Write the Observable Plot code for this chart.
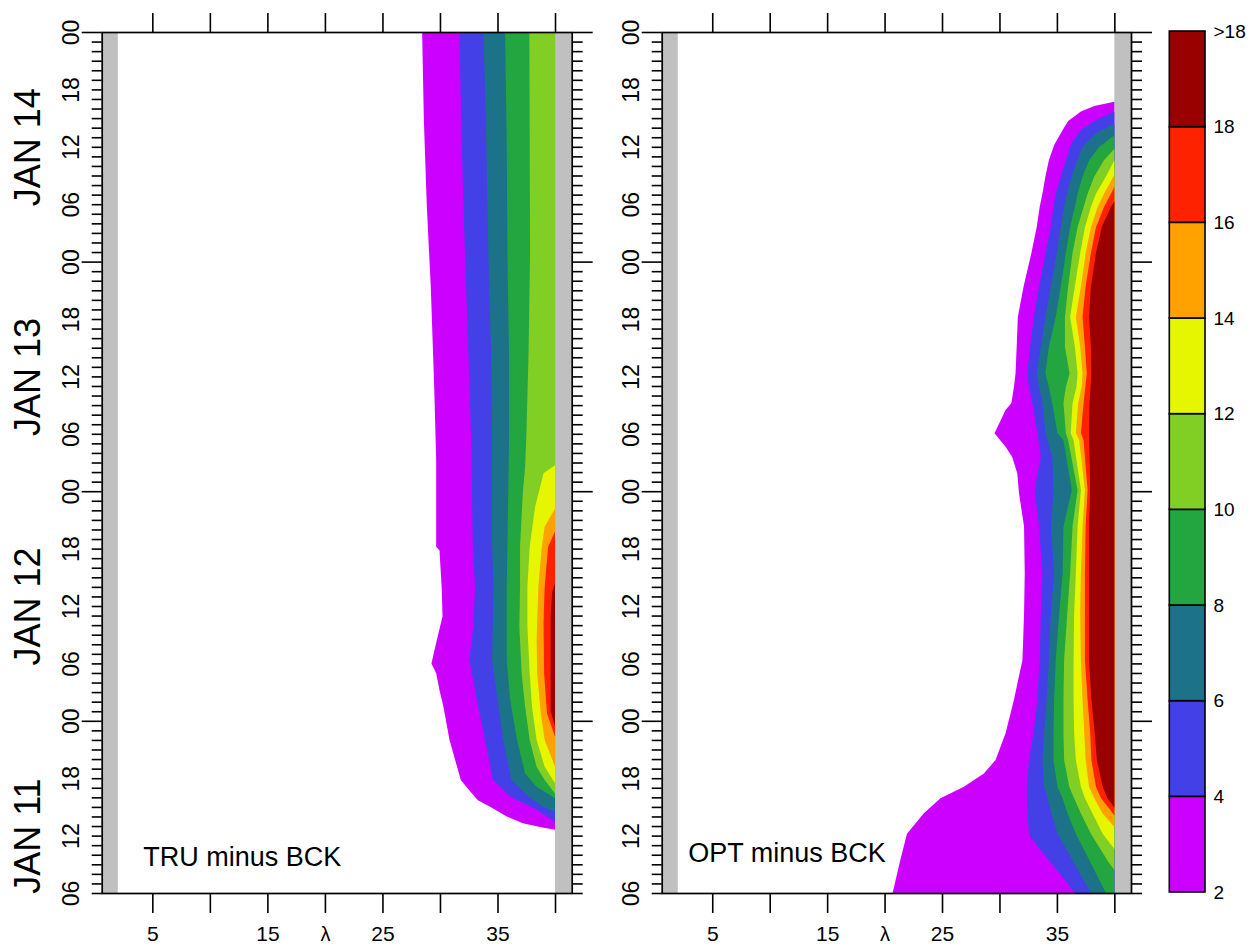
<!DOCTYPE html>
<html><head><meta charset="utf-8">
<script src="https://cdn.jsdelivr.net/npm/d3@7"></script>
<script src="https://cdn.jsdelivr.net/npm/@observablehq/plot@0.6"></script>
<style>
html,body{margin:0;padding:0;background:#fff;}
#wrap{position:relative;width:1260px;height:947px;overflow:hidden;background:#fff;}
#wrap > svg{position:absolute;top:0;}
</style></head>
<body><div id="wrap"></div>
<script>
// ---- contour levels & colours ----
const levels = [2, 4, 6, 8, 10, 12, 14, 16, 18];
const levelColors = ["#cc00ff", "#4440e8", "#1c7289", "#23a640", "#81cf24", "#e6f500", "#ffa200", "#ff2200", "#990000"];
const cbLabels = ["2", "4", "6", "8", "10", "12", "14", "16", "18", ">18"];

// ---- axis ticks / labels ----
const lamDomain = [0.6, 41.45];
const lamData = [2, 40];
const xTicks = [5, 10, 15, 20, 25, 30, 35, 40];
const xLabels = [5, 15, 25, 35];
const hourLabelPos = [6, 12, 18, 24, 30, 36, 42, 48, 54, 60, 66, 72, 78, 84, 90, 96];
const hourLabels = ["06", "12", "18", "00", "06", "12", "18", "00", "06", "12", "18", "00", "06", "12", "18", "00"];
const dayTicks = [24, 48, 72, 96];
const dayLabels = ["JAN 11", "JAN 12", "JAN 13", "JAN 14"];
const dayLabelPos = [12, 36, 60, 84];

// ---- TRU minus BCK: [hour since Jan 11 00, λ of contour] per level ----
const tru2 = [[96,28.45],[86.8,28.6],[77.7,28.86],[69.4,29.2],[58.9,29.5],[51.3,29.67],[42.2,29.67],[41.8,29.96],[37.7,30.16],[34.9,30.22],[33.15,29.87],[31.7,29.58],[30.0,29.26],[28.96,29.67],[27.2,29.96],[25.47,30.3],[22.0,30.83],[17.8,31.81],[16.8,32.5],[15.7,33.3],[15.0,34.4],[14.0,35.8],[13.3,37.2],[12.9,38.7],[12.6,40]];
const tru4 = [[96,31.7],[86.8,31.84],[77.7,32.04],[69.4,32.27],[62.4,32.47],[53.4,32.71],[42.2,32.85],[38.0,33.05],[33.8,32.9],[30.35,32.56],[26.2,33.2],[22.0,33.92],[17.8,34.59],[16.1,36.1],[14.7,38.41],[13.45,40]];
const tru6 = [[96,33.78],[86.8,33.98],[77.7,34.13],[69.4,34.27],[62.4,34.45],[53.4,34.53],[42.2,34.53],[38.0,34.65],[30.35,34.53],[26.2,35.0],[22.0,35.5],[17.8,36.2],[16.1,37.7],[15.0,39.0],[14.5,40]];
const tru8 = [[96,35.66],[84.8,35.8],[72.9,35.86],[62.4,36.0],[53.4,36.0],[42.2,35.86],[38.0,35.8],[30.35,35.8],[26.2,36.1],[22.0,36.7],[18.5,37.4],[17.1,38.4],[15.9,40]];
const tru10 = [[96,37.77],[72.9,37.83],[62.4,37.7],[53.4,37.5],[50.56,37.4],[47.78,37.2],[42.2,36.96],[38.0,36.96],[33.8,36.9],[28.96,37.1],[25.47,37.4],[22.0,37.8],[19.2,38.4],[17.8,39.1],[16.4,40]];
const tru12 = [[50.7,40],[49.87,39.0],[46.38,38.27],[42.2,37.8],[38.0,37.6],[33.8,37.6],[28.96,37.8],[25.47,38.0],[22.0,38.4],[19.2,39.1],[17.47,40]];
const tru14 = [[46.2,40],[44.29,39.1],[42.2,38.85],[38.0,38.55],[32.4,38.4],[28.96,38.45],[24.78,38.76],[22.0,39.1],[19.2,40]];
const tru16 = [[43.8,40],[42.2,39.4],[38.0,39.1],[34.2,39.0],[28.96,39.05],[24.78,39.3],[22.34,40]];
const tru18 = [[38.4,40],[37.5,39.75],[35.0,39.62],[25.0,39.62],[23.4,40]];

// ---- OPT minus BCK ----
const opt2 = [[88.7,40],[88.26,38.25],[87.7,37.09],[86.7,35.98],[85.75,35.5],[84.2,34.76],[82.6,34.3],[80.9,34.0],[79.1,33.74],[77.7,33.5],[75.6,33.24],[72.9,32.78],[69.4,32.1],[66.2,31.6],[63.1,31.5],[60.3,31.4],[58.9,31.26],[57.2,31.03],[56.5,30.53],[54.05,29.57],[52.65,30.53],[51.6,31.1],[49.87,31.55],[47.8,31.7],[44.3,32.14],[39.4,32.2],[35.2,32.14],[30.35,32.0],[26.2,31.26],[22.7,30.53],[19.9,29.66],[18.5,28.64],[17.1,26.9],[15.9,24.86],[14.3,23.4],[12.2,21.95],[9.4,21.36],[6,20.7]];
const opt4 = [[87.7,40],[86.8,38.4],[85.75,37.09],[84.4,36.27],[82.6,35.78],[80.9,35.34],[79.1,34.9],[77.7,34.7],[75.6,34.47],[72.9,34.0],[69.4,33.45],[66.2,33.0],[63.1,32.66],[60.3,32.43],[58.9,32.57],[57.2,32.87],[54.05,33.3],[51.6,33.6],[49.87,33.3],[47.8,33.07],[44.3,33.45],[39.4,33.74],[35.2,33.6],[30.35,33.5],[26.2,33.3],[22.7,32.95],[19.9,32.57],[17.1,32.37],[14.3,32.43],[12.0,32.57],[6,36.6]];
const opt6 = [[86.4,40],[85.4,38.4],[84.0,37.23],[82.6,36.8],[80.9,36.27],[79.1,35.86],[77.7,35.63],[75.6,35.34],[72.9,34.99],[69.4,34.47],[66.2,34.0],[63.1,33.6],[60.3,33.24],[58.9,33.45],[57.2,33.74],[54.05,34.0],[51.6,34.6],[47.8,34.7],[44.3,34.47],[39.4,34.76],[35.2,34.47],[30.35,34.3],[26.2,34.1],[22.7,33.88],[19.9,33.74],[17.1,33.88],[15.9,34.18],[14.3,34.53],[12.2,35.05],[6,37.96]];
const opt8 = [[85.2,40],[84.0,38.7],[82.6,37.8],[80.9,37.23],[79.1,36.8],[77.7,36.56],[75.6,36.15],[72.9,35.78],[69.4,35.34],[66.2,34.9],[63.1,34.3],[60.3,34.0],[58.9,34.3],[57.2,34.6],[54.05,35.05],[53.35,35.57],[48.1,36.3],[44.3,35.57],[39.4,35.5],[35.2,35.2],[30.35,34.9],[26.2,34.76],[22.7,34.7],[19.9,34.7],[17.1,35.05],[15.9,35.5],[14.3,35.93],[12.2,36.65],[6,39.27]];
const opt10 = [[83.8,40],[82.6,39.1],[80.9,38.25],[79.1,37.67],[77.7,37.32],[75.6,36.8],[72.9,36.36],[69.4,35.98],[66.2,35.7],[63.1,35.7],[60.3,36.1],[58.9,35.78],[57.2,35.57],[54.05,35.78],[53.35,35.98],[48.1,36.8],[44.3,36.36],[39.4,36.15],[35.2,35.9],[30.35,35.63],[26.2,35.57],[22.7,35.57],[19.9,35.63],[17.1,36.07],[15.9,36.5],[14.3,37.09],[12.2,37.96],[9.4,39.4],[8.4,40]];
const opt12 = [[82.6,40],[80.9,39.27],[79.1,38.4],[77.7,37.96],[75.6,37.44],[72.9,37.03],[69.4,36.56],[66.2,36.15],[63.1,36.56],[60.3,36.8],[58.9,36.7],[57.2,36.36],[54.05,36.2],[53.35,36.45],[48.1,37.09],[44.3,36.8],[39.4,36.65],[35.2,36.5],[30.35,36.45],[26.2,36.45],[22.7,36.5],[19.9,36.65],[17.1,37.09],[15.9,37.44],[14.3,38.1],[12.2,38.98],[10.6,40]];
const opt14 = [[81.05,40],[79.1,39.1],[77.7,38.55],[75.6,37.96],[72.9,37.5],[69.4,37.09],[66.2,36.65],[63.1,37.03],[60.3,37.23],[58.9,37.15],[57.2,36.85],[54.05,36.65],[53.35,36.94],[48.1,37.44],[44.3,37.23],[39.4,37.09],[35.2,37.03],[30.35,37.09],[26.2,37.23],[22.7,37.38],[19.9,37.5],[17.1,37.8],[15.9,38.25],[14.3,38.98],[12.9,40]];
const opt16 = [[79.8,40],[79.1,39.7],[77.7,39.1],[75.6,38.4],[72.9,37.96],[69.4,37.5],[66.2,37.23],[63.1,37.44],[60.3,37.6],[57.2,37.32],[54.05,37.09],[53.35,37.32],[48.1,37.67],[44.3,37.5],[39.4,37.44],[30.35,37.44],[26.2,37.67],[22.7,37.9],[19.9,38.0],[17.1,38.4],[15.9,38.84],[14.6,39.7],[14.1,40]];
const opt18 = [[78.3,40],[77.7,39.7],[75.6,38.9],[72.9,38.4],[69.4,37.96],[66.2,37.8],[63.1,37.96],[60.3,38.0],[57.2,37.84],[54.05,37.8],[48.1,37.9],[44.3,37.8],[30.35,37.8],[26.2,38.0],[22.7,38.3],[19.9,38.48],[17.1,38.98],[15.9,39.4],[14.9,40]];

const truLevels = [tru2, tru4, tru6, tru8, tru10, tru12, tru14, tru16, tru18];
const optLevels = [opt2, opt4, opt6, opt8, opt10, opt12, opt14, opt16, opt18];

const FONT = "'Liberation Sans', Arial, sans-serif";
const allHours = d3.range(6, 97);
const minorHours = allHours.filter(h => h % 24 !== 0);
const greyBands = [[lamDomain[0], lamData[0]], [lamData[1], lamDomain[1]]];

function panel(levelData, o) {
  const marks = [
    Plot.rect(greyBands, {x1: d => d[0], x2: d => d[1], fill: "#c0c0c0"}),
    ...levelData.map((arr, i) => Plot.areaX(arr, {y: d => d[0], x1: d => d[1], x2: () => lamData[1], fill: levelColors[i]})),
    Plot.frame({stroke: "black", strokeWidth: 1.7}),
    Plot.axisX({anchor: "top", ticks: xTicks, tickSize: 20, fill: null, strokeWidth: 1.6}),
    Plot.axisX({anchor: "bottom", ticks: xTicks, tickSize: 20, fill: null, strokeWidth: 1.6}),
    Plot.axisY({anchor: "left", ticks: minorHours, tickSize: 10, fill: null, strokeWidth: 1.6}),
    Plot.axisY({anchor: "left", ticks: dayTicks, tickSize: 20, fill: null, strokeWidth: 1.6}),
    Plot.axisY({anchor: "right", ticks: minorHours, tickSize: 10, fill: null, strokeWidth: 1.6}),
    Plot.axisY({anchor: "right", ticks: dayTicks, tickSize: 20, fill: null, strokeWidth: 1.6}),
    Plot.text(xLabels, {x: d => d, text: d => String(d), frameAnchor: "bottom", dy: 41, fontSize: 21, lineAnchor: "middle", textAnchor: "middle"}),
    Plot.text(["λ"], {x: () => 20, text: d => d, frameAnchor: "bottom", dy: 41, fontSize: 20, lineAnchor: "middle", textAnchor: "middle"}),
    Plot.text(hourLabelPos, {y: d => d, text: (d, i) => hourLabels[i], frameAnchor: "left", dx: -o.hourDx, rotate: -90, fontSize: 23, lineAnchor: "middle", textAnchor: "middle"}),
    Plot.text([o.caption], {text: d => d, frameAnchor: "bottom-left", dx: o.capDx, dy: o.capDy, textAnchor: "start", lineAnchor: "middle", fontSize: 27})
  ];
  if (o.days) {
    marks.push(Plot.text(dayLabelPos, {y: d => d, text: (d, i) => dayLabels[i], frameAnchor: "left", dx: -74, rotate: -90, fontSize: 36, lineAnchor: "middle", textAnchor: "middle"}));
  }
  const svg = Plot.plot({
    width: o.width, height: 947,
    marginLeft: o.ml, marginRight: o.mr, marginTop: 32, marginBottom: 54,
    x: {domain: lamDomain},
    y: {domain: [6, 96]},
    style: {fontFamily: FONT, background: "transparent", color: "black", overflow: "visible"},
    marks
  });
  svg.style.left = o.left + "px";
  return svg;
}

const wrap = document.getElementById("wrap");
wrap.appendChild(panel(truLevels, {width: 620, left: 0, ml: 101.7, mr: 48.3, hourDx: 30.5, days: true, caption: "TRU minus BCK", capDx: 41, capDy: -36}));
wrap.appendChild(panel(optLevels, {width: 600, left: 600, ml: 61.7, mr: 69, hourDx: 31, days: false, caption: "OPT minus BCK", capDx: 26, capDy: -40}));

// ---- colour bar ----
const cbBands = levels.map((lo, i) => ({lo, hi: lo + 2, color: levelColors[i]}));
const cbTickVals = [2, 4, 6, 8, 10, 12, 14, 16, 18, 20];
const cb = Plot.plot({
  width: 120, height: 947,
  marginLeft: 29.3, marginRight: 55, marginTop: 31, marginBottom: 55,
  x: {domain: [0, 1], axis: null},
  y: {domain: [2, 20], axis: null},
  color: {type: "identity"},
  style: {fontFamily: FONT, background: "transparent", color: "black", overflow: "visible"},
  marks: [
    Plot.rect(cbBands, {x1: () => 0, x2: () => 1, y1: "lo", y2: "hi", fill: "color", stroke: "black", strokeWidth: 1.6}),
    Plot.text(cbTickVals, {y: d => d, text: (d, i) => cbLabels[i], frameAnchor: "right", dx: 8, textAnchor: "start", lineAnchor: "middle", fontSize: 19})
  ]
});
cb.style.left = "1140px";
wrap.appendChild(cb);
</script>
</body></html>
